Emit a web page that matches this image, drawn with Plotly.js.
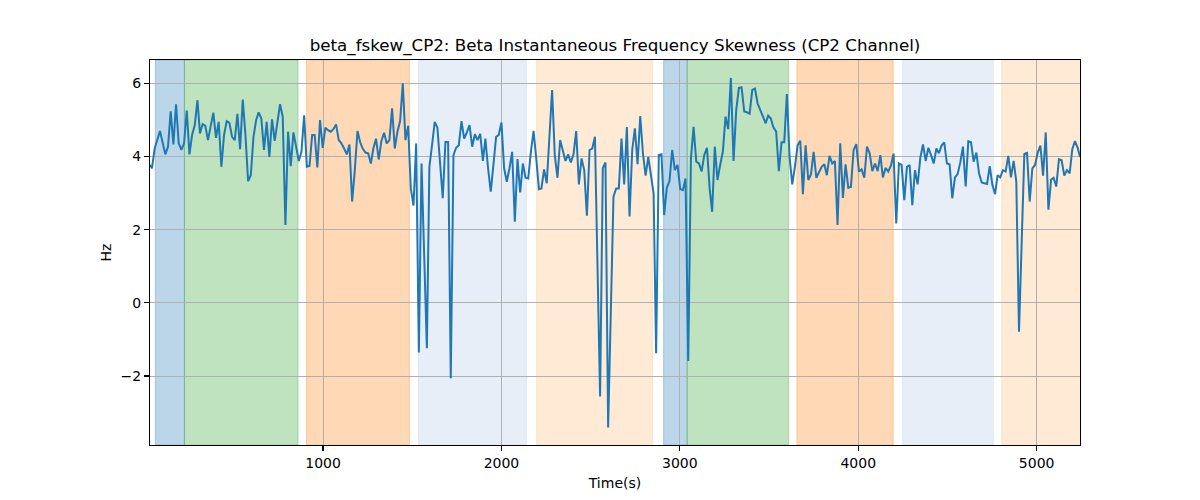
<!DOCTYPE html>
<html>
<head>
<meta charset="utf-8">
<script src="https://cdn.plot.ly/plotly-3.0.1.min.js"></script>
<style>html,body{margin:0;padding:0;background:#fff;}#chart{width:1200px;height:500px;}</style>
</head>
<body>
<div id="chart"></div>
<script>
// Time (s)
var timeS = [30,41,56,86,116,131,146,161,176,191,206,221,236,251,266,281,296,310,325,340,355,370,385,400,415,430,445,460,475,490,505,520,535,550,565,580,595,610,625,639,654,669,684,699,714,729,744,759,774,789,804,819,834,849,864,879,894,909,
924,939,953,968,983,998,1013,1028,1043,1058,1073,1088,1103,1118,1133,1148,1163,1178,1193,1208,1223,1238,1253,1268,1282,1297,1312,1327,1342,1357,1372,1387,1402,1417,1432,1447,1462,1477,1492,1507,1522,1537,1552,1582,1596,1611,1626,1641,1656,1671,1686,1701,1716,
1731,1746,1761,1776,1791,1806,1821,1836,1851,1866,1881,1896,1910,1925,1940,1955,1970,1985,2000,2015,2030,2045,2060,2075,2090,2105,2120,2135,2150,2165,2180,2195,2210,2224,2239,2254,2269,2284,2299,2314,2329,2344,2359,2374,2389,2404,2419,2434,2449,2464,2479,2494,2509,2524,2553,2568,2583,2598,
2628,2643,2658,2673,2688,2703,2718,2733,2748,2763,2778,2793,2808,2823,2838,2853,2867,2882,2897,2912,2927,2942,2957,2972,2987,3002,3017,3032,3047,3062,3077,3092,3107,3122,3137,3152,3167,3181,3196,3211,3226,3241,3256,3271,3286,3301,3316,3331,3346,3361,3376,3391,3406,3421,3436,
3451,3466,3481,3495,3510,3525,3540,3555,3570,3585,3600,3615,3630,3645,3660,3675,3690,3705,3720,3735,3750,3765,3780,3795,3810,3824,3839,3854,3869,3884,3899,3914,3929,3944,3959,3974,3989,4004,4019,4034,4049,4064,4079,4094,4109,4124,4138,4153,4168,4183,4198,4213,4228,4243,4258,4273,4288,4303,4318,4333,
4348,4363,4378,4393,4408,4423,4438,4452,4467,4482,4497,4512,4527,4542,4557,4572,4587,4602,4617,4632,4647,4662,4677,4692,4707,4722,4737,4752,4767,4781,4796,4811,4826,4841,4856,4871,4886,4901,4931,4946,4961,4976,4991,5006,5021,5036,5051,5066,5081,5095,5110,5125,5140,5155,5170,5185,5200,5215,5230,5243];

// Beta instantaneous frequency skewness (Hz)
var fskew = [3.77,3.68,4.22,4.70,4.06,4.27,5.24,4.33,5.43,4.36,4.18,4.36,5.26,4.06,4.59,4.86,5.54,4.63,4.89,4.84,4.45,4.86,5.20,4.51,4.95,3.72,4.59,4.97,4.92,4.54,4.45,5.17,4.20,5.56,4.59,3.33,3.49,4.54,5.00,5.21,5.04,4.18,4.95,3.99,5.02,4.43,4.91,5.43,5.09,2.13,4.68,3.74,4.66,4.31,3.88,4.13,5.13,3.72,
3.74,4.59,4.59,3.70,5.00,4.24,4.79,4.72,4.68,4.75,4.88,4.45,4.36,4.22,4.06,4.33,2.77,3.63,4.70,4.39,4.21,4.11,4.09,3.81,4.22,4.49,3.92,4.42,4.65,4.36,4.45,5.32,4.22,4.68,4.97,6.00,4.45,4.84,3.13,2.66,4.36,-1.36,3.81,-1.24,3.72,4.31,4.95,4.79,3.86,2.86,4.40,4.40,-2.06,
4.04,4.24,4.31,4.97,4.49,4.66,4.86,4.27,4.61,4.45,4.62,3.88,4.49,3.68,3.04,3.77,4.54,4.59,4.93,3.68,3.31,3.68,4.13,2.22,3.93,3.02,3.81,3.42,3.40,4.13,4.70,3.95,3.11,3.13,3.65,3.27,4.49,5.82,4.04,3.42,4.45,4.13,3.88,4.06,3.84,4.06,4.70,3.24,3.95,3.63,2.38,4.18,4.22,4.54,-2.56,3.68,3.84,-3.41,
2.90,3.13,3.13,4.49,3.24,4.81,2.36,4.18,4.77,3.79,5.11,4.09,3.48,3.99,3.49,2.99,-1.38,4.04,4.06,2.40,3.15,3.33,4.18,3.63,3.77,3.11,3.08,3.40,-1.59,3.93,4.81,3.86,3.81,3.59,4.04,4.24,3.13,2.49,4.27,3.36,3.77,4.13,5.09,4.75,6.15,3.88,5.27,5.88,5.89,5.23,5.21,5.17,5.82,5.86,5.45,
5.27,5.09,4.91,5.12,5.04,4.79,4.68,3.60,4.39,4.39,5.71,3.99,3.24,3.72,4.31,4.43,2.97,4.31,3.36,3.51,4.13,3.42,3.59,3.72,3.79,3.49,4.02,3.81,3.88,2.13,4.36,2.87,3.79,3.15,3.17,4.18,4.34,3.59,3.65,3.42,4.27,4.09,3.60,3.81,3.60,4.04,3.43,3.69,3.59,3.75,4.08,2.17,3.81,3.77,2.81,3.72,3.77,2.67,3.63,3.24,
3.97,4.33,3.88,4.24,4.04,3.81,4.22,4.09,4.30,4.39,3.81,3.79,2.86,3.43,3.52,3.84,4.27,3.18,4.42,4.39,3.86,4.11,3.54,3.29,3.27,3.25,3.74,3.22,2.97,3.49,3.43,3.63,3.59,4.02,3.43,3.88,3.31,-0.79,4.07,4.10,2.77,3.68,3.77,4.11,4.30,3.48,4.66,2.55,3.37,3.42,3.18,3.93,3.90,3.48,3.63,3.54,4.21,4.42,4.24,3.99];

// Shaded phase spans (s)
var spanStart = [60, 223, 907, 1535, 2197, 2909, 3041, 3656, 4249, 4804];
var spanEnd   = [223, 860, 1484, 2140, 2847, 3041, 3610, 4196, 4757, 5300];
var spanColor = ['rgba(31,119,180,0.3)','rgba(44,160,44,0.3)','rgba(255,127,14,0.3)','rgba(174,199,232,0.3)','rgba(255,187,120,0.3)',
                 'rgba(31,119,180,0.3)','rgba(44,160,44,0.3)','rgba(255,127,14,0.3)','rgba(174,199,232,0.3)','rgba(255,187,120,0.3)'];

var xTicks = [1000, 2000, 3000, 4000, 5000];
var yTicks = [-2, 0, 2, 4, 6];

var shapes = spanStart.map(function(s, i){
  return {type:'rect', xref:'x', yref:'paper', x0:s, x1:spanEnd[i], y0:0, y1:1,
          fillcolor:spanColor[i], line:{color:spanColor[i], width:1}, layer:'below'};
});

var font = 'DejaVu Sans, sans-serif';
var trace = {x: timeS, y: fskew, type:'scatter', mode:'lines',
             line:{color:'#1f77b4', width:2}, hoverinfo:'skip'};

var layout = {
  width:1200, height:500,
  margin:{l:150, r:120, t:60, b:55},
  paper_bgcolor:'#fff', plot_bgcolor:'#fff',
  showlegend:false,
  font:{family:font, size:14, color:'#000'},
  title:{text:'beta_fskew_CP2: Beta Instantaneous Frequency Skewness (CP2 Channel)',
         font:{family:font, size:16.7, color:'#000'}, x:0.5125, xanchor:'center', y:0.91, yanchor:'middle', xref:'container', yref:'container'},
  xaxis:{range:[30, 5243], tickvals:xTicks, ticktext:xTicks.map(String),
         showgrid:true, gridcolor:'#b0b0b0', gridwidth:1,
         showline:true, linecolor:'#000', linewidth:1.1, mirror:true,
         ticks:'outside', ticklen:5, tickwidth:1.1, tickcolor:'#000',
         zeroline:false, tickfont:{family:font, size:14, color:'#000'},
         title:{text:'Time(s)', font:{family:font, size:14, color:'#000'}, standoff:8}},
  yaxis:{range:[-3.886, 6.64], tickvals:yTicks, ticktext:['\u22122','0','2','4','6'],
         showgrid:true, gridcolor:'#b0b0b0', gridwidth:1,
         showline:true, linecolor:'#000', linewidth:1.1, mirror:true,
         ticks:'outside', ticklen:5, tickwidth:1.1, tickcolor:'#000',
         zeroline:false, tickfont:{family:font, size:14, color:'#000'},
         title:{text:'Hz', font:{family:font, size:14, color:'#000'}, standoff:5}},
  shapes: shapes
};

Plotly.newPlot('chart', [trace], layout, {staticPlot:true, displayModeBar:false});
</script>
</body>
</html>
